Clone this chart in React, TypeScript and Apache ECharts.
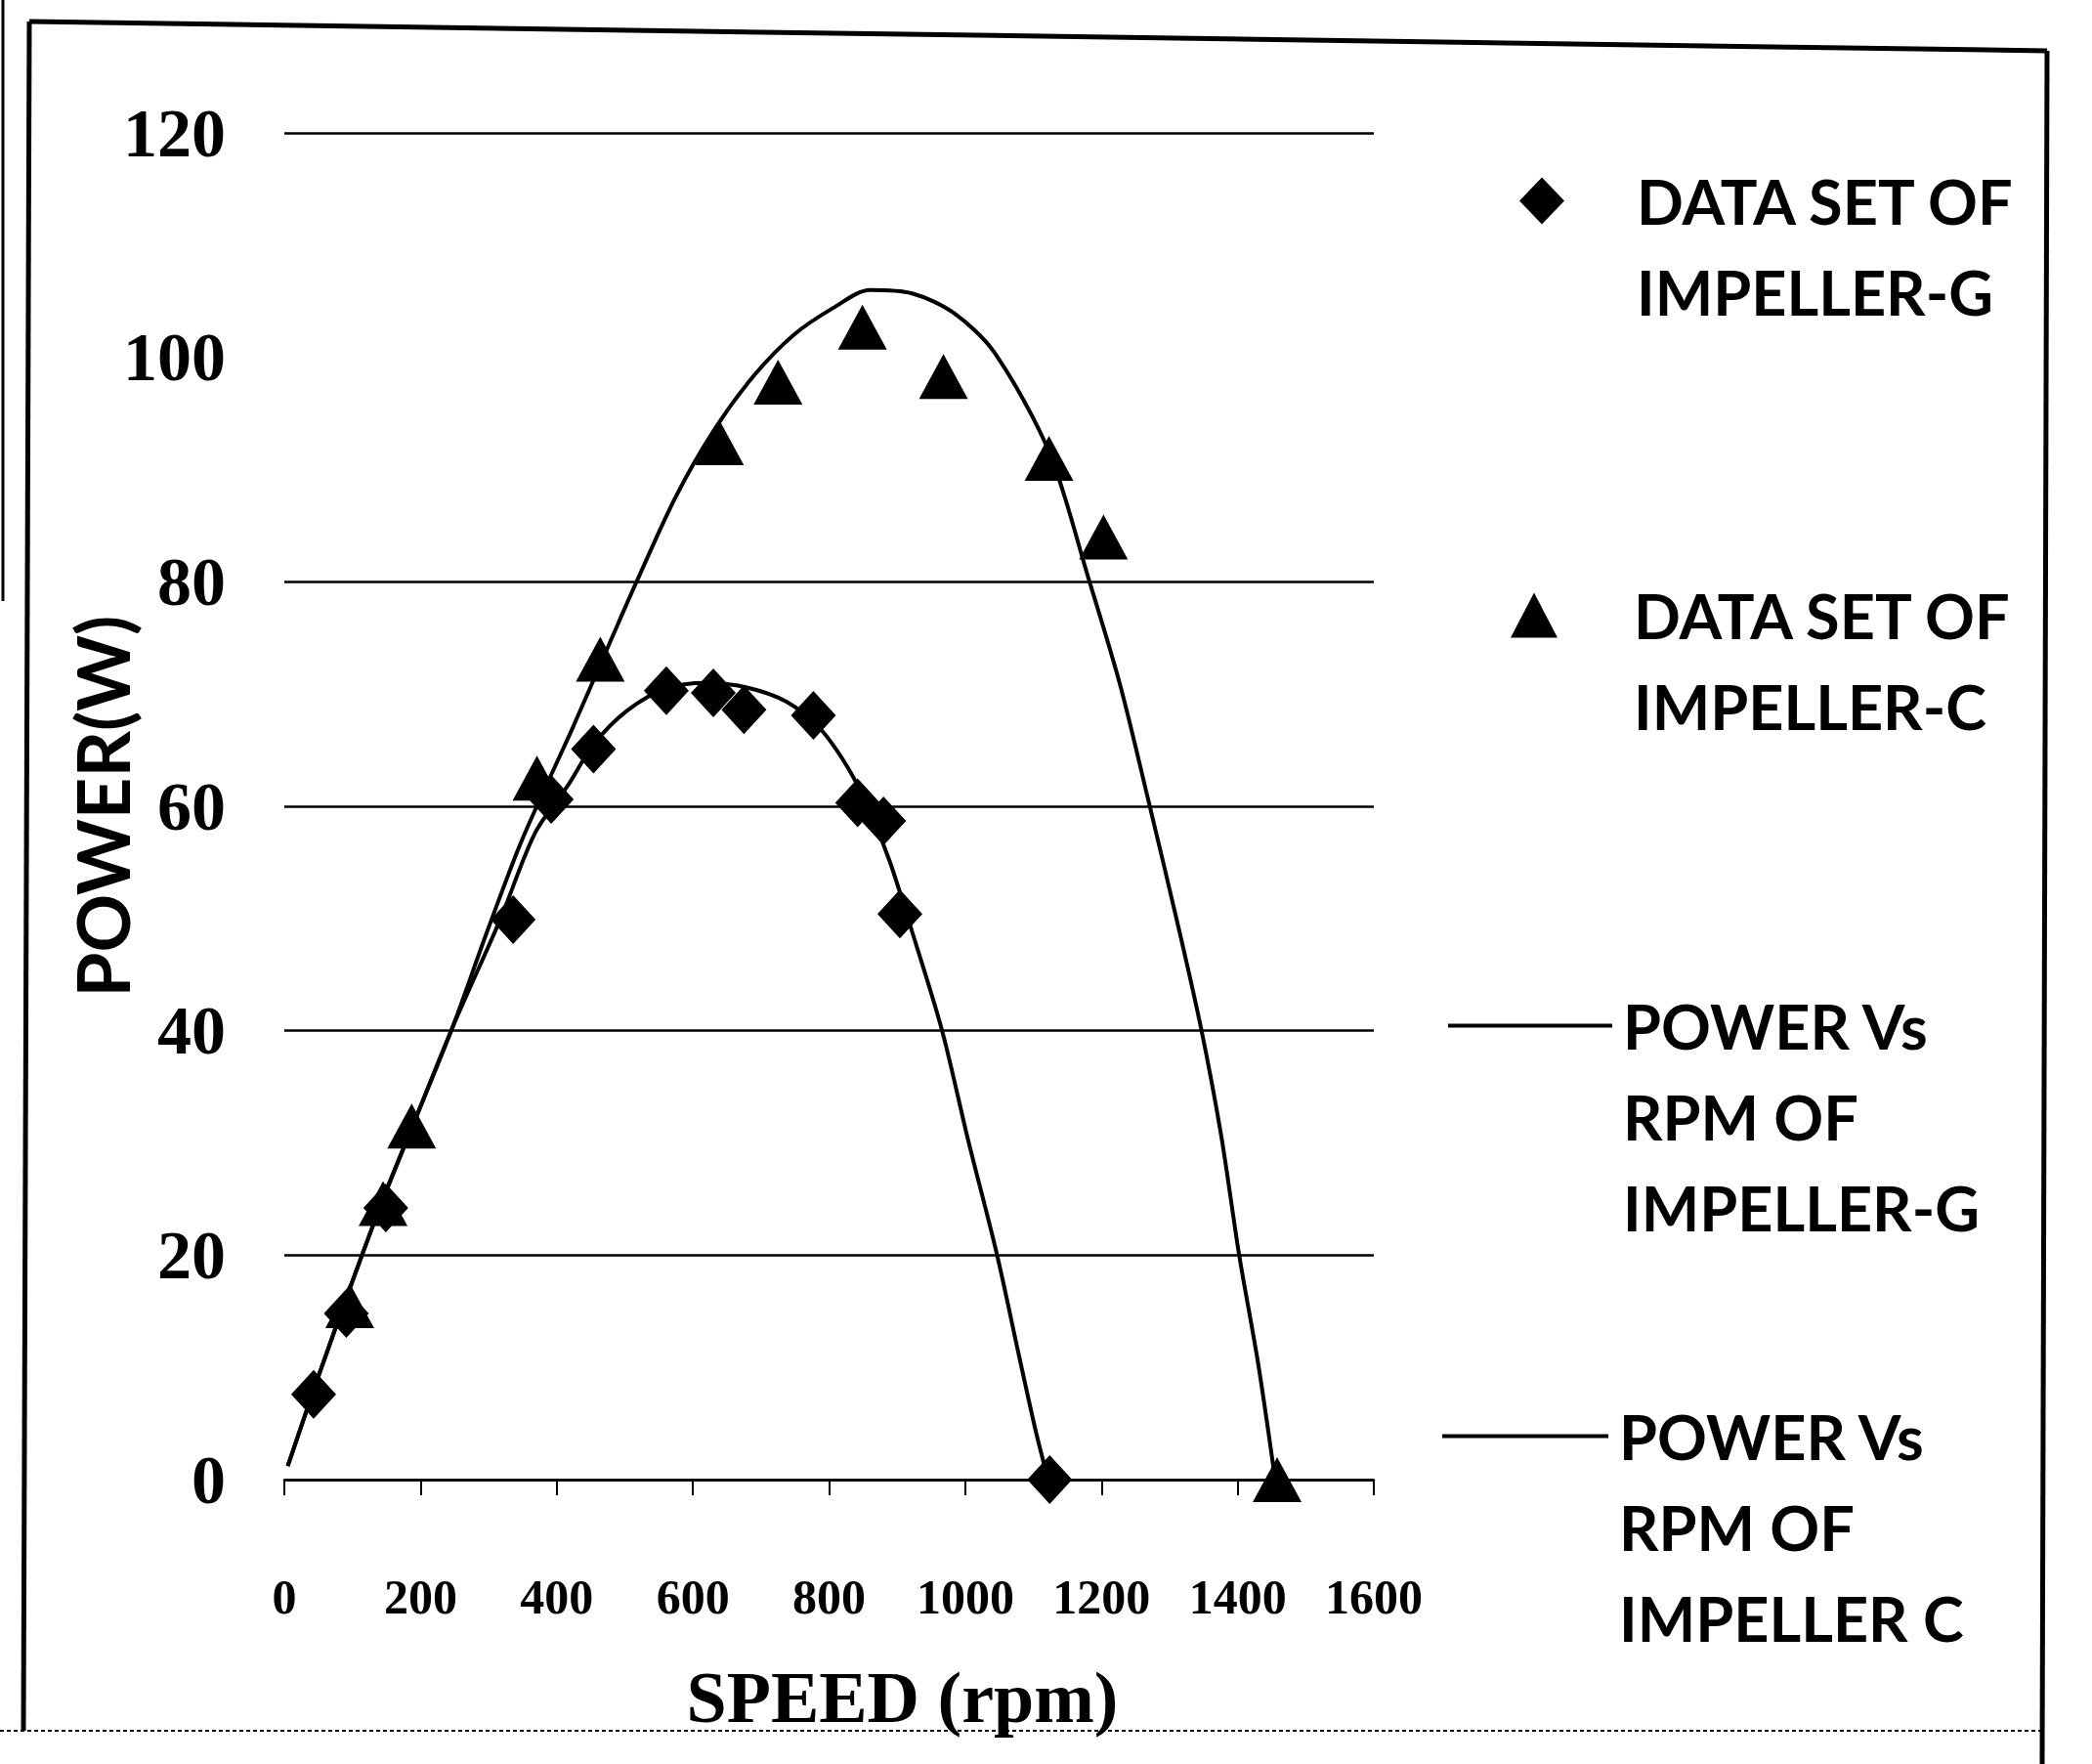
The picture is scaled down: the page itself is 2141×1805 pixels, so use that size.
import React, { useEffect, useRef } from "react";
import * as echarts from "echarts";

// ---- axis ticks ----
const X_MIN = 0;
const X_MAX = 1600;
const X_STEP = 200;
const Y_MIN = 0;
const Y_MAX = 120;
const Y_STEP = 20;
const Y_GRID_HIDDEN = [100]; // this gridline is absent in the reference

// ---- measured data points ----
const G_SPEED = [43, 91, 149, 336, 392, 454, 561, 630, 675, 777, 842, 880, 904, 1124];
const G_POWER = [7.6, 14.8, 24.2, 49.9, 60.6, 65.1, 70.3, 70.1, 68.6, 68.1, 60.3, 58.7, 50.4, 0];

const C_SPEED = [96, 145, 187, 371, 464, 639, 725, 849, 968, 1123, 1203, 1458];
const C_POWER = [15.5, 24.6, 31.5, 62.5, 73.1, 92.4, 97.8, 102.7, 98.3, 91.0, 84.0, 0];

// ---- fitted curves ----
const G_FIT_SPEED = [5, 50, 96, 143, 191, 247, 317, 368, 417, 454, 503, 561, 620, 678, 738, 787, 828, 858, 889, 920, 966, 1004, 1046, 1078, 1104, 1120];
const G_FIT_POWER = [1.2, 9.2, 17.0, 24.7, 31.9, 40.3, 49.9, 57.6, 61.9, 65.5, 68.5, 70.5, 71.0, 70.6, 69.3, 66.9, 63.4, 59.8, 55.1, 49.2, 40.0, 30.3, 20.2, 11.3, 4.2, 0.4];

const C_FIT_SPEED = [5, 50, 96, 143, 191, 247, 297, 349, 425, 481, 518, 575, 632, 690, 748, 806, 860, 922, 982, 1042, 1123, 1181, 1227, 1269, 1312, 1346, 1376, 1402, 1430, 1453];
const C_FIT_POWER = [1.2, 9.2, 17.0, 24.7, 31.9, 40.3, 48.7, 57.0, 67.2, 75.0, 80.1, 87.6, 93.6, 98.4, 102.0, 104.4, 106.0, 105.7, 104.0, 100.5, 91.6, 80.3, 70.9, 60.5, 49.5, 40.3, 30.6, 20.1, 10.4, 0.9];

// ---- texts ----
const SERIES_NAMES = [
  "DATA SET OF IMPELLER-G",
  "DATA SET OF IMPELLER-C",
  "POWER Vs RPM OF IMPELLER-G",
  "POWER Vs RPM OF IMPELLER C",
];
const LEGEND_LINES = [
  ["DATA SET OF", "IMPELLER-G"],
  ["DATA SET OF", "IMPELLER-C"],
  ["POWER Vs", "RPM OF", "IMPELLER-G"],
  ["POWER Vs", "RPM OF", "IMPELLER C"],
];
const X_NAME = "SPEED (rpm)";
const Y_NAME = "POWER(W)";

const SERIF = "'Liberation Serif', 'DejaVu Serif', 'Times New Roman', serif";
const SANS = "Lato, 'Liberation Sans', Arial, sans-serif";

const zip = (xs: number[], ys: number[]) => xs.map((x, i) => [x, ys[i]]);

function legendFor(i: number, left: number, top: number, icon: string, w: number, h: number, padLeft: number) {
  return {
    data: [{ name: SERIES_NAMES[i], icon }],
    left,
    top,
    orient: "vertical",
    padding: 0,
    itemGap: 0,
    itemWidth: w,
    itemHeight: h,
    selectedMode: false,
    formatter: (name: string) => {
      const idx = SERIES_NAMES.indexOf(name);
      const lines = LEGEND_LINES[idx];
      const blanks = new Array(lines.length - 1).fill("");
      return blanks.concat(lines).join("\n");
    },
    textStyle: {
      fontFamily: SANS,
      fontWeight: "bold",
      fontSize: 63,
      lineHeight: 93,
      color: "#000",
      padding: [0, 0, 0, padLeft],
    },
  };
}

export default function App() {
  const ref = useRef<HTMLDivElement>(null);

  useEffect(() => {
    if (!ref.current) return;
    const chart = echarts.init(ref.current, null, { renderer: "svg", width: 2141, height: 1805 });

    const gridColors: string[] = [];
    for (let v = Y_MIN; v <= Y_MAX; v += Y_STEP) {
      gridColors.push(Y_GRID_HIDDEN.includes(v) ? "rgba(0,0,0,0)" : "#000");
    }

    chart.setOption({
      animation: false,
      backgroundColor: "#fff",
      grid: { left: 291, right: 735, top: 136, bottom: 291, containLabel: false },
      xAxis: {
        type: "value",
        min: X_MIN,
        max: X_MAX,
        interval: X_STEP,
        axisLine: { show: true, onZero: false, lineStyle: { color: "#000", width: 2.5 } },
        axisTick: { show: true, length: 16, lineStyle: { color: "#000", width: 2 } },
        axisLabel: {
          margin: 95,
          fontFamily: SERIF,
          fontWeight: "bold",
          fontSize: 50,
          color: "#000",
          formatter: (v: number) => String(v),
        },
        splitLine: { show: false },
        name: X_NAME,
        nameLocation: "middle",
        nameGap: 186,
        nameMoveOverlap: false,
        nameTextStyle: {
          fontFamily: SERIF,
          fontWeight: "bold",
          fontSize: 74,
          color: "#000",
          padding: [0, 0, 0, 150],
        },
      },
      yAxis: {
        type: "value",
        min: Y_MIN,
        max: Y_MAX,
        interval: Y_STEP,
        axisLine: { show: false },
        axisTick: { show: false },
        axisLabel: { margin: 60, fontFamily: SERIF, fontWeight: "bold", fontSize: 70, color: "#000" },
        splitLine: { show: true, lineStyle: { color: gridColors, width: 2.5 } },
        name: Y_NAME,
        nameLocation: "middle",
        nameRotate: 90,
        nameGap: 150,
        nameMoveOverlap: false,
        nameTextStyle: { fontFamily: SANS, fontWeight: "bold", fontSize: 74, color: "#000" },
      },
      legend: [
        legendFor(0, 1555, 66, "diamond", 46, 48, 69),
        legendFor(1, 1546, 490, "triangle", 48, 46, 73),
        legendFor(2, 1482, 817, "rect", 168, 4, 6),
        legendFor(3, 1476, 1237, "rect", 170, 4, 6),
      ],
      series: [
        {
          name: SERIES_NAMES[0],
          type: "scatter",
          symbol: "diamond",
          symbolSize: [46, 50],
          itemStyle: { color: "#000", opacity: 1 },
          data: zip(G_SPEED, G_POWER),
          z: 4,
        },
        {
          name: SERIES_NAMES[1],
          type: "scatter",
          symbol: "triangle",
          symbolSize: [50, 46],
          itemStyle: { color: "#000", opacity: 1 },
          data: zip(C_SPEED, C_POWER),
          z: 4,
        },
        {
          name: SERIES_NAMES[2],
          type: "line",
          smooth: 0.3,
          showSymbol: false,
          symbol: "none",
          lineStyle: { color: "#000", width: 4 },
          itemStyle: { color: "#000" },
          data: zip(G_FIT_SPEED, G_FIT_POWER),
          z: 2,
        },
        {
          name: SERIES_NAMES[3],
          type: "line",
          smooth: 0.3,
          showSymbol: false,
          symbol: "none",
          lineStyle: { color: "#000", width: 4 },
          itemStyle: { color: "#000" },
          data: zip(C_FIT_SPEED, C_FIT_POWER),
          z: 2,
        },
      ],
      graphic: [
        { type: "line", shape: { x1: 30, y1: 22, x2: 2095, y2: 52 }, style: { stroke: "#000", lineWidth: 5 } },
        { type: "line", shape: { x1: 30, y1: 22, x2: 24, y2: 1771 }, style: { stroke: "#000", lineWidth: 5 } },
        { type: "line", shape: { x1: 2095, y1: 52, x2: 2090, y2: 1805 }, style: { stroke: "#000", lineWidth: 5 } },
        { type: "line", shape: { x1: 0, y1: 1771, x2: 2090, y2: 1771 }, style: { stroke: "#000", lineWidth: 2, lineDash: [4, 3] } },
        { type: "line", shape: { x1: 3, y1: 0, x2: 3, y2: 615 }, style: { stroke: "#000", lineWidth: 3 } },
      ],
    });

    return () => chart.dispose();
  }, []);

  return (
    <div
      ref={ref}
      style={{ position: "absolute", left: 0, top: 0, width: 2141, height: 1805, background: "#fff" }}
    />
  );
}
